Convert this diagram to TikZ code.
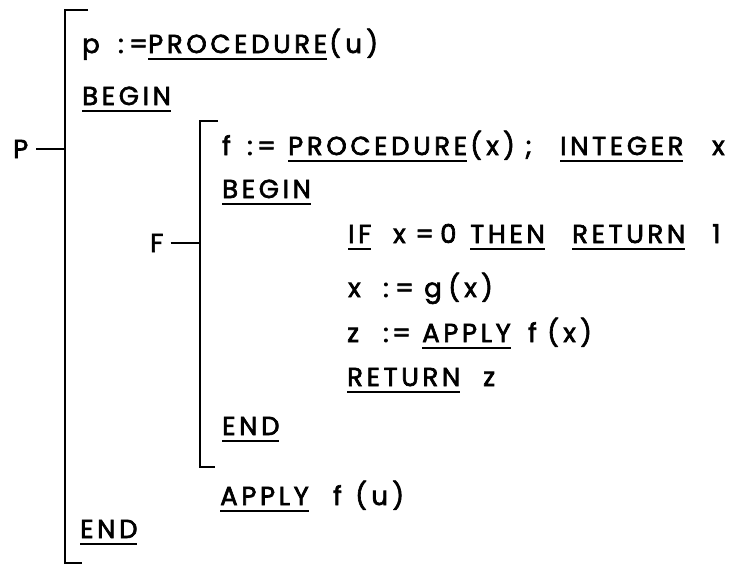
\documentclass[tikz,border=0pt]{standalone}
\usepackage{fontspec}
\newfontfamily\codefont[LetterSpace=14,FakeBold=2.5]{Poppins}
\newsavebox\kwbox
% underlined keyword
\newcommand\kw[1]{\leavevmode\sbox\kwbox{#1}\rlap{\rule[-7pt]{\wd\kwbox}{2.1pt}}\usebox{\kwbox}}
% token in a slot of fixed width
\newcommand\tok[2]{\makebox[#1pt][l]{#2}}
\tikzset{
  code/.style={anchor=base west,inner sep=0pt,font=\codefont\fontsize{26}{30}\selectfont},
  brk/.style={line width=2.8pt},
}
\begin{document}
\begin{tikzpicture}[x=1pt,y=-1pt]
  \useasboundingbox (0,0) rectangle (733,566);

  % outer procedure p
  \coordinate (Ptop) at (65,10);
  \coordinate (Pbot) at (65,563);
  \draw[brk] (88,10) -- (Ptop) -- (Pbot) -- (82,563);
  \node[code] (P) at (13,158) {P};
  \draw[brk] ([xshift=8pt]P.east) -- (P.east -| Ptop);

  \node[code] (p1) at (82,53)  {\tok{36}{p}\tok{11}{:}\tok{19}{=}\tok{181}{\kw{PROCEDURE}}(\,u\,)};
  \node[code] (p2) at (82,105) {\kw{BEGIN}};

  % inner procedure f
  \coordinate (Ftop) at (200,121);
  \coordinate (Fbot) at (200,467);
  \draw[brk] (218,121) -- (Ftop) -- (Fbot) -- (215,467);
  \node[code] (F) at (150,252) {F};
  \draw[brk] ([xshift=7pt]F.east) -- (F.east -| Ftop);

  \node[code] (f1) at (222,155) {\tok{25}{f}\tok{10}{:}\tok{31}{=}\tok{182}{\kw{PROCEDURE}}\tok{55}{(\,x\,)}\tok{35}{;}\tok{152}{\kw{INTEGER}}x};
  \node[code] (f2) at (222,198) {\kw{BEGIN}};
  \node[code] (f3) at (348,243) {\tok{45}{\kw{IF}}\tok{22}{x}\tok{25}{=}\tok{30}{0}\tok{102}{\kw{THEN}}\tok{140}{\kw{RETURN}}1};
  \node[code] (f4) at (348,297) {\tok{35}{x}\tok{12}{:}\tok{29}{=}\tok{24}{g}(\,x\,)};
  \node[code] (f5) at (347,342) {\tok{36}{z}\tok{9}{:}\tok{30}{=}\tok{106}{\kw{APPLY}}\tok{19}{f}(\,x\,)};
  \node[code] (f6) at (347,386) {\tok{136}{\kw{RETURN}}z};
  \node[code] (f7) at (222,435) {\kw{END}};

  \node[code] (p3) at (220,505) {\tok{113}{\kw{APPLY}}\tok{22}{f}(\,u\,)};
  \node[code] (p4) at (80,538)  {\kw{END}};
\end{tikzpicture}
\end{document}
